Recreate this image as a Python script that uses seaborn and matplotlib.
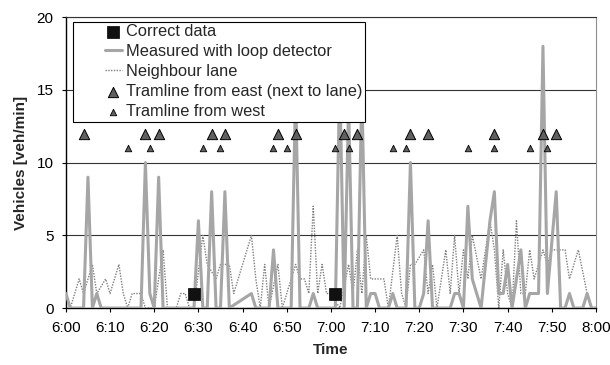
import matplotlib
matplotlib.use("Agg")
import matplotlib.pyplot as plt
import seaborn as sns
import pandas as pd
from matplotlib.lines import Line2D
from matplotlib.collections import PathCollection
from matplotlib.legend_handler import HandlerLine2D, HandlerPathCollection

# all times are minutes after 6:00
loop_min = [0, 1, 4, 5, 6, 7, 8, 17, 18, 19, 20, 21, 22, 29, 30, 31, 32, 33, 34, 35,
            36, 37, 42, 43, 46, 47, 48, 51, 52, 53, 55, 56, 57, 61, 62, 63, 64, 65, 66, 67,
            68, 69, 70, 71, 73, 74, 75, 77, 78, 79, 80, 81, 82, 83, 87, 88, 89, 90, 91, 92,
            93, 94, 95, 96, 97, 98, 99, 100, 101, 103, 104, 105, 106, 107, 108, 109, 111, 112, 113, 114,
            115, 117, 118, 119, 120]
loop_veh = [1, 0, 0, 9, 0, 1, 0, 0, 10, 1, 0, 9, 0, 0, 6, 0, 0, 8, 0, 0,
            8, 0, 1, 0, 0, 4, 0, 0, 15, 0, 0, 1, 0, 0, 16, 0, 14, 0, 0, 15,
            0, 1, 1, 0, 0, 1, 0, 0, 10, 0, 0, 1, 6, 0, 0, 1, 1, 0, 7, 2,
            1, 0, 3, 6, 8, 1, 1, 3, 0, 4, 0, 1, 1, 1, 18, 1, 8, 0, 0, 1,
            0, 0, 1, 0, 0]

neigh_min = [0, 1, 2, 3, 4, 6, 7, 9, 10, 12, 13, 14, 15, 17, 18, 20, 22, 23, 25, 26,
             27, 28, 29, 31, 32, 34, 35, 37, 38, 39, 42, 43, 44, 45, 46, 48, 49, 52, 53, 54,
             55, 56, 57, 58, 59, 60, 62, 64, 65, 66, 67, 68, 69, 72, 73, 75, 76, 77, 78, 79,
             81, 82, 83, 84, 86, 87, 88, 89, 90, 91, 92, 94, 96, 97, 98, 99, 100, 101, 102, 103,
             104, 105, 106, 108, 109, 110, 113, 114, 116, 118, 119]
neigh_veh = [1, 0, 1, 2, 1, 3, 1, 2, 1, 3, 1, 0, 1, 1, 0, 0, 4, 0, 0, 1,
             1, 0, 0, 5, 3, 2, 3, 3, 1, 2, 5, 2, 0, 3, 0, 3, 0, 3, 2, 2,
             1, 7, 1, 3, 1, 1, 0, 3, 1, 4, 1, 5, 2, 2, 0, 5, 1, 0, 3, 3,
             4, 1, 3, 0, 4, 1, 5, 1, 4, 2, 5, 2, 6, 4, 0, 4, 1, 0, 6, 1,
             1, 4, 2, 4, 3, 4, 4, 2, 4, 1, 0]

correct_min = [29, 61]
correct_veh = [1, 1]

tram_east_min = [4, 18, 21, 33, 36, 48, 52, 63, 66, 78, 82, 97, 108, 111]
tram_west_min = [14, 19, 31, 35, 47, 50, 61, 64, 74, 77, 91, 97, 105, 109]

time_ticks = list(range(0, 121, 10))
time_labels = ['6:00', '6:10', '6:20', '6:30', '6:40', '6:50', '7:00',
               '7:10', '7:20', '7:30', '7:40', '7:50', '8:00']

sns.set_theme(style='white')
plt.rcParams['font.family'] = ['Liberation Sans', 'DejaVu Sans']

fig, ax = plt.subplots(figsize=(6.1, 3.65), dpi=100)
fig.subplots_adjust(left=0.108, right=0.977, bottom=0.156, top=0.953)

loop = pd.DataFrame({'t': loop_min, 'veh': loop_veh})
neigh = pd.DataFrame({'t': neigh_min, 'veh': neigh_veh})
east = pd.DataFrame({'t': tram_east_min, 'veh': 12})
west = pd.DataFrame({'t': tram_west_min, 'veh': 11})
correct = pd.DataFrame({'t': correct_min, 'veh': correct_veh})

sns.lineplot(data=neigh, x='t', y='veh', color='#7f7f7f', lw=1.0, dashes=False,
             label='Neighbour lane', ax=ax, zorder=2)
ax.lines[-1].set_linestyle((0, (1, 1)))
sns.lineplot(data=loop, x='t', y='veh', color='#a6a6a6', lw=2.2,
             label='Measured with loop detector', ax=ax, zorder=3)
sns.scatterplot(data=east, x='t', y='veh', marker='^', s=55, color='#606060',
                edgecolor='black', linewidth=0.7, label='Tramline from east (next to lane)',
                ax=ax, zorder=4)
sns.scatterplot(data=west, x='t', y='veh', marker='^', s=22, color='#606060',
                edgecolor='black', linewidth=0.6, label='Tramline from west', ax=ax, zorder=4)
sns.scatterplot(data=correct, x='t', y='veh', marker='s', s=70, color='#111111',
                edgecolor='black', linewidth=0.5, label='Correct data', ax=ax, zorder=5)

ax.set_xlim(0, 120)
ax.set_ylim(0, 20)
ax.set_xticks(time_ticks)
ax.set_xticklabels(time_labels)
ax.set_yticks([0, 5, 10, 15, 20])
ax.yaxis.grid(True, color='#333333', lw=0.8)
ax.set_axisbelow(True)

for side in ['left', 'bottom']:
    ax.spines[side].set_color('black')
    ax.spines[side].set_linewidth(1.0)
ax.spines['top'].set_color('#333333')
ax.spines['top'].set_linewidth(0.8)
ax.spines['right'].set_color('#909090')
ax.spines['right'].set_linewidth(0.8)

ax.tick_params(axis='both', bottom=True, left=True, length=3, width=0.8,
               direction='out', labelsize=11, colors='black', pad=6)
ax.set_xlabel('Time', fontsize=11, fontweight='bold', labelpad=6)
ax.set_ylabel('Vehicles [veh/min]', fontsize=11, fontweight='bold', labelpad=6)

order = ['Correct data', 'Measured with loop detector', 'Neighbour lane',
         'Tramline from east (next to lane)', 'Tramline from west']
handles, labels = ax.get_legend_handles_labels()
lookup = dict(zip(labels, handles))
leg = ax.legend([lookup[k] for k in order], order, loc='upper left',
                bbox_to_anchor=(0.013, 0.985), fontsize=11.8, frameon=True,
                fancybox=False, framealpha=1, edgecolor='black',
                handlelength=2.83, handletextpad=0.29, labelspacing=0.31,
                borderpad=0.15, borderaxespad=0, scatterpoints=1,
                handler_map={Line2D: HandlerLine2D(xpad=1.8),
                             PathCollection: HandlerPathCollection(xpad=1.8)})
leg.get_frame().set_linewidth(0.8)
leg.set_zorder(6)

plt.savefig('out.png', dpi=100)
